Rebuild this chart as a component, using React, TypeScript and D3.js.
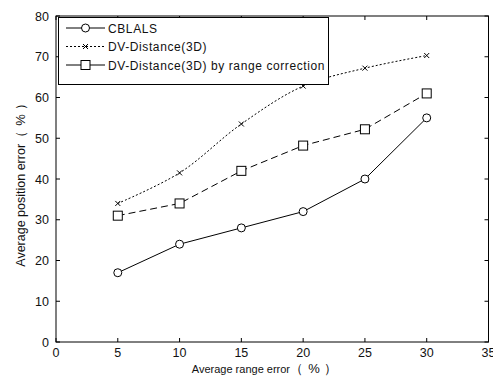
import React from 'react'
import * as d3 from 'd3'

const rangeErrors = [5, 10, 15, 20, 25, 30]
const cblals = [17, 24, 28, 32, 40, 55]
const dvDistance = [34, 41.5, 53.5, 62.8, 67.2, 70.3]
const dvCorrected = [31, 34, 42, 48.2, 52.2, 61]
const xTicks = [0, 5, 10, 15, 20, 25, 30, 35]
const yTicks = [0, 10, 20, 30, 40, 50, 60, 70, 80]

const SERIES = [
  { key: 'cblals', label: 'CBLALS', values: cblals, dash: null, marker: 'circle', curve: d3.curveLinear },
  { key: 'dv', label: 'DV-Distance(3D)', values: dvDistance, dash: '2,2', marker: 'x', curve: d3.curveCatmullRom },
  { key: 'dvc', label: 'DV-Distance(3D) by range correction', values: dvCorrected, dash: '7,4', marker: 'square', curve: d3.curveLinear },
]

const W = 493
const H = 376
const pad = { l: 56, r: 4, t: 16, b: 34 }
const FONT = 'Liberation Sans, Arial, sans-serif'
const TICK_FONT = '"Liberation Sans Narrow", "Arial Narrow", Liberation Sans, sans-serif'

function Marker({ type, x, y }: { type: string; x: number; y: number }) {
  if (type === 'circle') return <circle cx={x} cy={y} r={4} fill="white" stroke="#000" strokeWidth={1} />
  if (type === 'square') return <rect x={x - 4.5} y={y - 4.5} width={9} height={9} fill="white" stroke="#000" strokeWidth={1} />
  return (
    <path d={`M${x - 2.5},${y - 2.5}L${x + 2.5},${y + 2.5}M${x - 2.5},${y + 2.5}L${x + 2.5},${y - 2.5}`} stroke="#000" strokeWidth={1} />
  )
}

// unit suffix in full-width brackets, spaced like the original
function Pct({ size }: { size: number }) {
  return (
    <>
      <tspan fontSize={size}>（</tspan>
      <tspan dx={size * 0.4} fontSize={size}>%</tspan>
      <tspan dx={size * 0.3} fontSize={size}>）</tspan>
    </>
  )
}

export default function App() {
  const x = d3.scaleLinear().domain([0, 35]).range([pad.l, W - pad.r - 0.5])
  const y = d3.scaleLinear().domain([0, 80]).range([H - pad.b, pad.t])
  const x0 = x(0), x1 = x(35), y0 = y(0), y1 = y(80)

  return (
    <svg width={W} height={H} style={{ position: 'absolute', left: 0, top: 0, background: '#fff' }} fontFamily={FONT}>
      <rect x={0} y={0} width={W} height={H} fill="#fff" />
      {/* axes box */}
      <rect x={x0} y={y1} width={x1 - x0} height={y0 - y1} fill="none" stroke="#000" strokeWidth={1} />
      {xTicks.map(t => (
        <g key={'x' + t}>
          <line x1={x(t)} x2={x(t)} y1={y0} y2={y0 - 4} stroke="#000" />
          <line x1={x(t)} x2={x(t)} y1={y1} y2={y1 + 4} stroke="#000" />
          <text x={x(t)} y={y0 + 14.5} textAnchor="middle" fontSize={12.5} fontFamily={TICK_FONT} fill="#111">{t}</text>
        </g>
      ))}
      {yTicks.map(t => (
        <g key={'y' + t}>
          <line x1={x0} x2={x0 + 4} y1={y(t)} y2={y(t)} stroke="#000" />
          <line x1={x1} x2={x1 - 4} y1={y(t)} y2={y(t)} stroke="#000" />
          <text x={x0 - 7} y={y(t) + 4.5} textAnchor="end" fontSize={12.5} fontFamily={TICK_FONT} fill="#111">{t}</text>
        </g>
      ))}
      <text x={(x0 + x1) / 2 - 8} y={H - 3.5} textAnchor="middle" fontSize={11} fill="#111">
        Average range error<Pct size={13} />
      </text>
      <text transform={`translate(25,${(y0 + y1) / 2 + 3}) rotate(-90)`} textAnchor="middle" fontSize={12.5} fill="#111">
        Average position error<Pct size={13} />
      </text>

      {SERIES.map(s => {
        const line = d3.line<number>().x((_, i) => x(rangeErrors[i])).y(v => y(v)).curve(s.curve)
        return (
          <g key={s.key}>
            <path d={line(s.values) ?? ''} fill="none" stroke="#000" strokeWidth={1} strokeDasharray={s.dash ?? undefined} />
            {s.values.map((v, i) => <Marker key={i} type={s.marker} x={x(rangeErrors[i])} y={y(v)} />)}
          </g>
        )
      })}

      {/* legend */}
      <g>
        <rect x={58.5} y={17.5} width={270} height={67} fill="#fff" stroke="#000" strokeWidth={1} />
        {SERIES.map((s, i) => {
          const ly = 28 + i * 18.5
          return (
            <g key={'lg' + s.key}>
              <line x1={66} x2={105} y1={ly} y2={ly} stroke="#000" strokeDasharray={s.dash === '7,4' ? undefined : s.dash ?? undefined} />
              <Marker type={s.marker} x={85.5} y={ly} />
              <text x={108} y={ly + 4.5} fontSize={12} letterSpacing={0.6} fill="#111">{s.label}</text>
            </g>
          )
        })}
      </g>
    </svg>
  )
}
